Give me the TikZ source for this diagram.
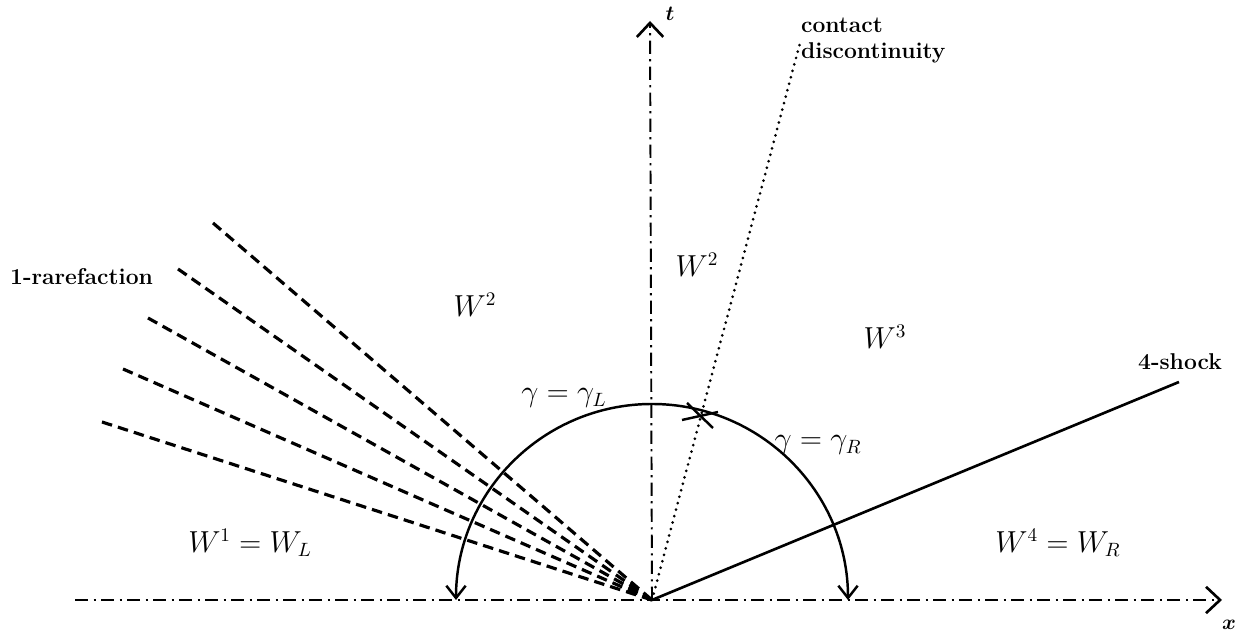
\documentclass[tikz,border=0pt]{standalone}
\usepackage{bm}
\usepackage{tikz}
\usetikzlibrary{arrows.meta, positioning, calc}

\begin{document}
\begin{tikzpicture}[
    x=0.02cm, y=0.02cm,
    axis/.style={line width=1.1pt, dash pattern=on 7.6pt off 3pt on 1.2pt off 3pt,
                 -{Straight Barb[length=8pt, width=15pt, line width=1.5pt]}},
    fan/.style={line width=1.8pt, dash pattern=on 6pt off 3.5pt},
    contact/.style={line width=1.7pt, line cap=round, dash pattern=on 0pt off 3.8pt},
    shock/.style={line width=1.5pt},
    wave/.style={line width=1.4pt, {Straight Barb[length=7pt, width=11pt]}-{Straight Barb[length=7pt, width=11pt]}},
    lbl/.style={font=\bfseries\fontsize{13}{15}\selectfont, inner sep=1pt},
    state/.style={font=\fontsize{16}{18}\selectfont, inner sep=1pt}
]
    \useasboundingbox (0,0) rectangle (1245,634);

    % origin and axes
    \coordinate (O) at (652,34);
    \coordinate (xs) at (75,34);
    \coordinate (xe) at (1222,34);
    \coordinate (te) at (650,613);
    \draw[axis] (xs) -- (xe);
    \draw[axis] (O) -- (te);
    \node[lbl] (tl) at (670,620) {$\bm{t}$};
    \node[lbl] (xl) at (1229,9) {$\bm{x}$};

    % 1-rarefaction fan
    \foreach \i/\px/\py in {1/213/411, 2/178/365, 3/148/316, 4/123/265, 5/102/212} {
        \coordinate (r\i) at (\px,\py);
        \draw[fan] (r\i) -- (O);
    }
    \node[lbl, anchor=east] (rare) at (155,357) {1-rarefaction};

    % contact discontinuity
    \coordinate (ce) at (800,591);
    \draw[contact] (O) -- (ce);
    \node[lbl, anchor=north west, align=left] (cd) at (799,618) {contact\\discontinuity};

    % 4-shock
    \coordinate (se) at (1179,252);
    \draw[shock] (O) -- (se);
    \node[lbl] (sl) at (1180,272) {4-shock};

    % wave curve gamma
    \coordinate (gl) at (456,34);
    \draw[wave] (gl) arc[start angle=180, end angle=0, radius=196];
    \coordinate (cx) at (700,219);
    \draw[line width=1.4pt] ($(cx)+(-18,-5)$) -- ($(cx)+(18,3)$);
    \draw[line width=1.4pt] ($(cx)+(-13,12)$) -- ($(cx)+(13,-13)$);
    \node[state] (gL) at (564,236) {$\gamma=\gamma_L$};
    \node[state] (gR) at (818,189) {$\gamma=\gamma_R$};

    % states
    \node[state] (w1) at (250,91) {$W^1=W_L$};
    \node[state] (w2a) at (475,329) {$W^2$};
    \node[state] (w2b) at (697,369) {$W^2$};
    \node[state] (w3) at (885,297) {$W^3$};
    \node[state] (w4) at (1058,91) {$W^4=W_R$};
\end{tikzpicture}
\end{document}
